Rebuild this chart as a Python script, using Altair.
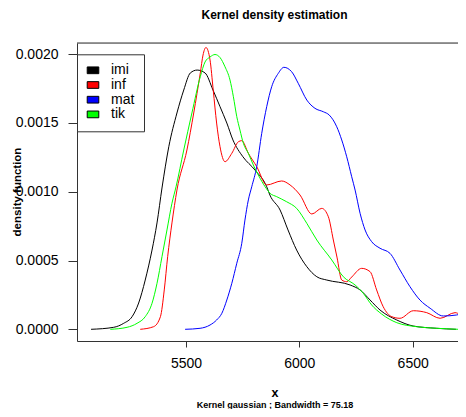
import altair as alt
import pandas as pd

series = ["imi", "inf", "mat", "tik"]
colors = ["black", "red", "blue", "#00ff00"]

imi_x = [5081, 5181, 5225, 5262, 5291, 5320, 5350, 5372, 5394, 5424, 5460, 5490, 5519, 5549,
         5584, 5619, 5650, 5680, 5707, 5751, 5804, 5856, 5870, 5915, 5950, 5988, 6033, 6077,
         6121, 6224, 6268, 6312, 6356, 6430, 6502, 6606, 6691]
imi_y = [0, 0.0000145, 0.0000436, 0.0000916, 0.000191, 0.000358, 0.000576, 0.000773, 0.001027,
         0.001327, 0.001572, 0.001739, 0.001863, 0.001884, 0.001863, 0.001739, 0.001618, 0.001499,
         0.001376, 0.001254, 0.001158, 0.001036, 0.000976, 0.000867, 0.000722, 0.000576, 0.000455,
         0.000382, 0.000358, 0.000322, 0.000286, 0.000213, 0.00014, 0.0000676, 0.000024, 0.0000073, 0]

inf_x = [5298, 5357, 5387, 5404, 5419, 5438, 5460, 5504, 5534, 5563, 5575, 5588, 5606, 5620,
         5635, 5650, 5672, 5702, 5731, 5746, 5775, 5812, 5856, 5922, 5959, 6003, 6055, 6099,
         6128, 6150, 6166, 6187, 6209, 6231, 6275, 6312, 6341, 6370, 6408, 6444, 6503, 6562,
         6621, 6687, 6731]
inf_y = [0, 0.0000189, 0.0000916, 0.000286, 0.000528, 0.000773, 0.001012, 0.001303, 0.001572,
         0.001863, 0.001993, 0.002048, 0.001957, 0.001739, 0.001499, 0.001327, 0.001218, 0.001279,
         0.001363, 0.001371, 0.001279, 0.001182, 0.001049, 0.001078, 0.001049, 0.000976, 0.000838,
         0.000879, 0.000818, 0.000649, 0.000525, 0.000358, 0.000346, 0.00038, 0.000443, 0.000419,
         0.000286, 0.000164, 0.0000916, 0.00008, 0.000135, 0.000121, 0.00008, 0.000121, 0.0000676]

mat_x = [5496, 5562, 5606, 5635, 5658, 5680, 5702, 5724, 5746, 5760, 5775, 5790, 5812, 5834,
         5856, 5878, 5907, 5932, 5966, 5995, 6033, 6069, 6106, 6132, 6165, 6187, 6209, 6231,
         6246, 6268, 6290, 6319, 6356, 6400, 6444, 6488, 6532, 6577, 6635, 6694, 6731]
mat_y = [0, 0.0000073, 0.0000312, 0.0000676, 0.000116, 0.000213, 0.000334, 0.00048, 0.000625,
         0.000794, 0.00094, 0.001036, 0.001182, 0.001424, 0.001618, 0.001763, 0.00186, 0.001904,
         0.001872, 0.001788, 0.001666, 0.001606, 0.001581, 0.001557, 0.001472, 0.001376, 0.001254,
         0.001109, 0.001012, 0.000843, 0.000722, 0.000637, 0.000589, 0.000552, 0.000431, 0.00031,
         0.000213, 0.000153, 0.0000967, 0.000104, 0.000121]

tik_x = [5166, 5240, 5284, 5320, 5350, 5372, 5394, 5416, 5438, 5456, 5490, 5526, 5563, 5584,
         5606, 5628, 5650, 5672, 5694, 5709, 5724, 5738, 5753, 5775, 5797, 5819, 5849, 5871,
         5900, 5944, 5988, 6033, 6077, 6143, 6194, 6246, 6282, 6319, 6363, 6430, 6518, 6606, 6701]
tik_y = [0, 0.0000145, 0.0000436, 0.0000916, 0.000189, 0.000334, 0.000528, 0.000722, 0.000916,
         0.001036, 0.001303, 0.001572, 0.001836, 0.001943, 0.001979, 0.001997, 0.001975, 0.001908,
         0.001812, 0.00169, 0.001545, 0.001448, 0.001352, 0.001279, 0.001194, 0.001121, 0.001036,
         0.000988, 0.000964, 0.000927, 0.000879, 0.00077, 0.000649, 0.000504, 0.000382, 0.000322,
         0.000262, 0.000177, 0.000111, 0.000048, 0.0000189, 0.0000073, 0]

x_ticks = [5500, 6000, 6500]
y_ticks = [0, 0.0005, 0.001, 0.0015, 0.002]

title_text = "Kernel density estimation"
sub_text = "Kernel gaussian ; Bandwidth =  75.18"
x_title = "x"
y_title = "density function"

rows = []
for name, xs, ys in [("imi", imi_x, imi_y), ("inf", inf_x, inf_y),
                     ("mat", mat_x, mat_y), ("tik", tik_x, tik_y)]:
    for i, (a, b) in enumerate(zip(xs, ys)):
        rows.append({"series": name, "x": a, "density": b, "i": i})
df = pd.DataFrame(rows)

W, H = 381, 298
FONT = "Liberation Sans"
AX = "#333333"

xscale = alt.Scale(domain=[5019, 6700], nice=False, zero=False)
yscale = alt.Scale(domain=[-0.000085, 0.0020807], nice=False, zero=False)

lines = alt.Chart(df).mark_line(strokeWidth=1, interpolate="monotone", clip=True).encode(
    x=alt.X("x:Q", scale=xscale,
            axis=alt.Axis(values=x_ticks, format="d", title=None, grid=False, tickSize=6,
                          labelPadding=9, labelFontSize=14, labelFont=FONT, labelColor="black",
                          domainColor=AX, tickColor=AX, labelFlush=False, labelOverlap=False)),
    y=alt.Y("density:Q", scale=yscale,
            axis=alt.Axis(values=y_ticks, format=".4f", title=None, grid=False, tickSize=9,
                          labelPadding=10, labelFontSize=14, labelFont=FONT, labelColor="black",
                          domainColor=AX, tickColor=AX, labelFlush=False, labelOverlap=False)),
    stroke=alt.Stroke("series:N", scale=alt.Scale(domain=series, range=colors), legend=None),
    detail="series:N",
    order="i:Q",
)

legend_layer = alt.Chart(pd.DataFrame({"series": series})).mark_point(
    filled=True, clip=True, shape="square").encode(
    x=alt.value(-500), y=alt.value(-500),
    fill=alt.Fill("series:N", scale=alt.Scale(domain=series, range=colors),
                  legend=alt.Legend(orient="none", legendX=0, legendY=11.3, title=None,
                                    symbolType="M-1,-0.58H1V0.58H-1Z", symbolSize=134,
                                    symbolStrokeColor="black", symbolStrokeWidth=1,
                                    symbolOpacity=1, labelFontSize=14, labelFont=FONT,
                                    labelColor="black", padding=9, rowPadding=0.7,
                                    strokeColor=AX, fillColor="white", labelOffset=11)),
)

one = pd.DataFrame({"t": [title_text], "s": [sub_text], "xt": [x_title], "yt": [y_title]})

top_rule = alt.Chart(one).mark_rule(color=AX, strokeWidth=1).encode(
    x=alt.value(0), x2=alt.value(W), y=alt.value(0))

title = alt.Chart(one).mark_text(font=FONT, fontSize=12, fontWeight="bold", color="black",
                                 baseline="middle", align="center").encode(
    text="t:N", x=alt.value(197.5), y=alt.value(-28.5))
subtitle = alt.Chart(one).mark_text(font=FONT, fontSize=9, fontWeight="bold", color="black",
                                    baseline="middle", align="center").encode(
    text="s:N", x=alt.value(198), y=alt.value(362))
xt = alt.Chart(one).mark_text(font=FONT, fontSize=12.5, fontWeight="bold", color="black",
                              baseline="middle", align="center").encode(
    text="xt:N", x=alt.value(198), y=alt.value(350))
yt = alt.Chart(one).mark_text(font=FONT, fontSize=11.5, fontWeight="bold", color="black",
                              baseline="middle", align="center", angle=270).encode(
    text="yt:N", x=alt.value(-59), y=alt.value(149))

chart = alt.layer(lines, legend_layer, top_rule, title, subtitle, xt, yt).resolve_scale(
    fill="independent", stroke="independent"
).properties(
    width=W, height=H,
    autosize=alt.AutoSizeParams(type="none"),
    padding={"left": 69, "top": 35, "right": 0, "bottom": 68},
).configure_view(stroke=None).configure(background="white")

chart.save("out.html", embed_options={"renderer": "svg", "actions": False})
